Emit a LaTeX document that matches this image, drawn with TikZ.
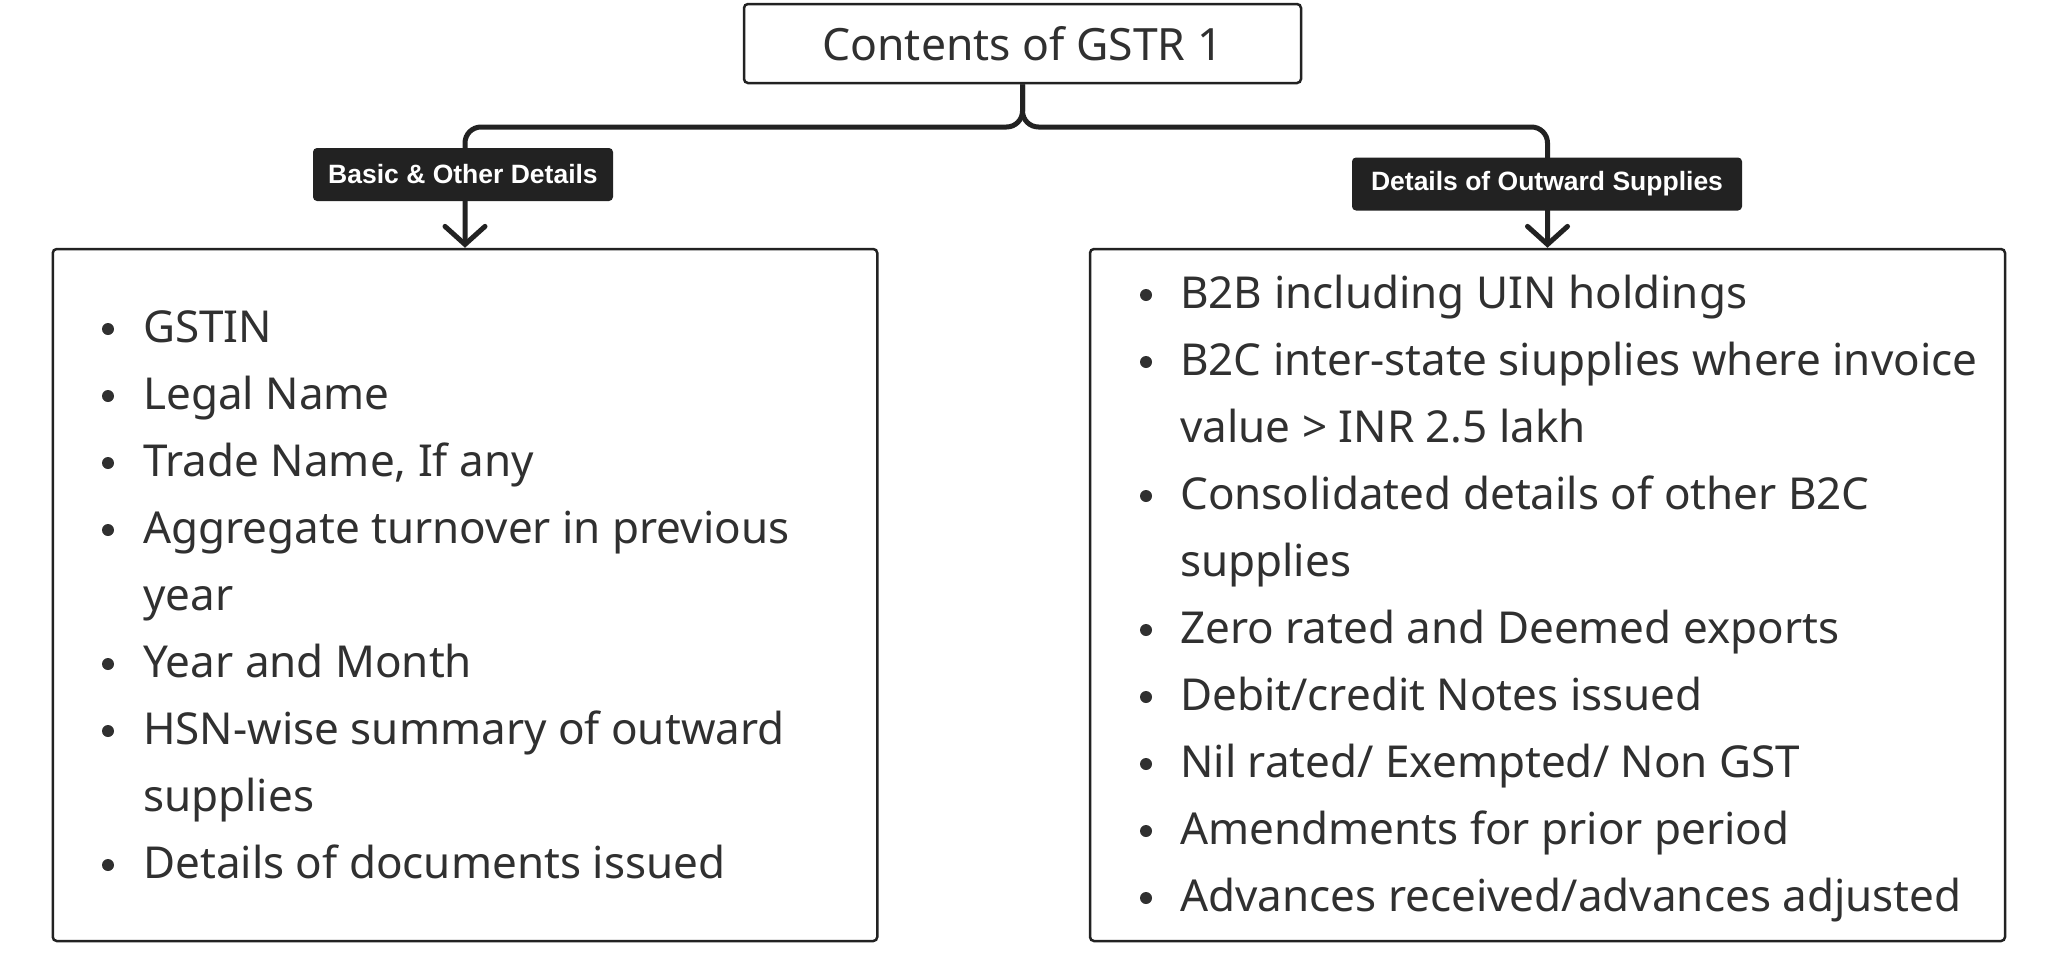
\documentclass[tikz,border=0pt]{standalone}
\usepackage{fontspec}
\setmainfont{Noto Sans}
\newfontfamily\tagfont{Liberation Sans}
\usepackage{xcolor}
\usetikzlibrary{positioning,calc,arrows.meta}

\definecolor{ink}{HTML}{222222}
\definecolor{txt}{HTML}{303030}

\tikzset{
	box/.style={draw=ink, line width=2.5pt, rounded corners=4pt, inner sep=0pt},
	tag/.style={fill=ink, text=white, rounded corners=4pt, inner sep=0pt,
		minimum height=53pt, font=\tagfont\bfseries\fontsize{26.5}{30}\selectfont},
	conn/.style={draw=ink, line width=5pt, rounded corners=16pt,
		-{Straight Barb[length=18pt,width=40pt,line cap=round]}},
	entry/.style={anchor=base west, text=txt, inner sep=0pt,
		font=\fontsize{44}{52}\selectfont},
	dot/.style={fill=txt},
}

\begin{document}
\begin{tikzpicture}[x=1pt,y=-1pt]
		\useasboundingbox (0,0) rectangle (2048,962);
		
		\node[box, minimum width=557pt, minimum height=79pt, text=txt,
			font=\fontsize{44.5}{52}\selectfont] (title) at (1022.5,43.5) {Contents of GSTR 1};
		
		\node[box, minimum width=824.5pt, minimum height=692pt] (lbox) at (465,595) {};
		\node[box, minimum width=915pt, minimum height=692pt] (rbox) at (1547.5,595) {};
		
		% branches
		\coordinate (split) at (1022.5,127);
		\draw[conn] (title.south) -- (split) -- (split -| lbox.north) -- (lbox.north);
		\draw[conn] (title.south) -- (split) -- (split -| rbox.north) -- (rbox.north);
		
		\node[tag, minimum width=300pt] (ltag) at (463,174.5) {Basic \& Other Details};
		\node[tag, minimum width=390pt] (rtag) at (1547,184) {Details of Outward Supplies};
		
		% left list: 1 = bullet, 0 = continued line
		\foreach \b/\t [count=\i from 0] in {1/GSTIN, 1/Legal Name, 1/{Trade Name, If any},
				1/Aggregate turnover in previous, 0/year, 1/Year and Month,
				1/HSN-wise summary of outward, 0/supplies, 1/Details of documents issued}{
			\node[entry] (l\i) at (143,342+67*\i) {\t};
			\ifnum\b=1 \fill[dot] (108,329+67*\i) circle (6); \fi
		}
		
		% right list
		\foreach \b/\t [count=\i from 0] in {1/B2B including UIN holdings,
				1/B2C inter-state siupplies where invoice, 0/{value > INR 2.5 lakh},
				1/Consolidated details of other B2C, 0/supplies,
				1/Zero rated and Deemed exports, 1/{Debit/credit Notes issued},
				1/{Nil rated/ Exempted/ Non GST}, 1/Amendments for prior period,
				1/{Advances received/advances adjusted}}{
			\node[entry] (r\i) at (1180,308+67*\i) {\t};
			\ifnum\b=1 \fill[dot] (1146,295+67*\i) circle (6); \fi
		}
\end{tikzpicture}
\end{document}
